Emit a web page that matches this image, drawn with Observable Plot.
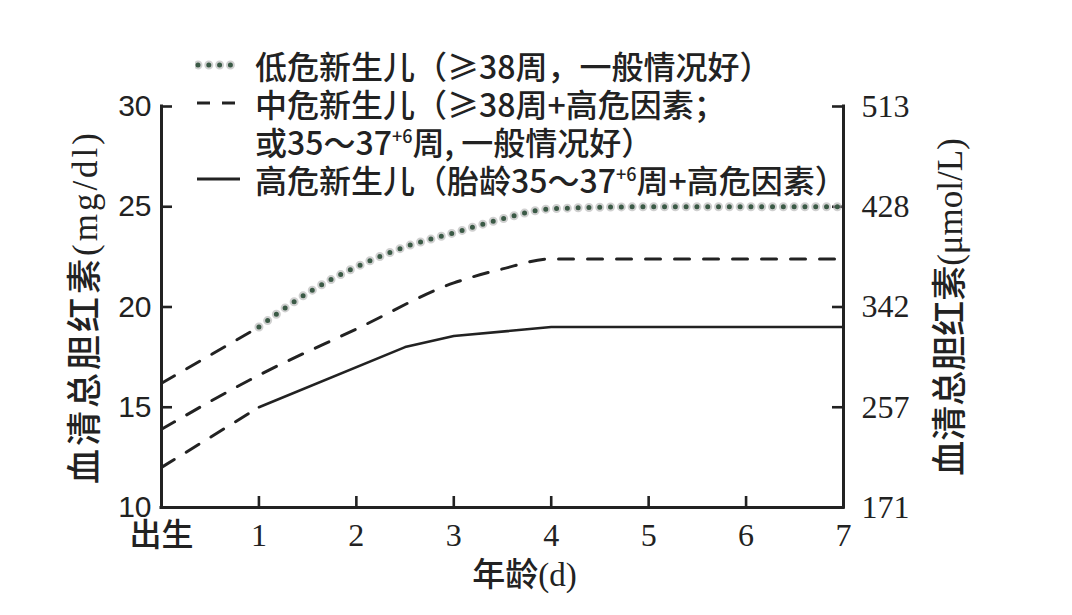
<!DOCTYPE html>
<html><head><meta charset="utf-8">
<script src="https://cdn.jsdelivr.net/npm/d3@7"></script>
<script src="https://cdn.jsdelivr.net/npm/@observablehq/plot@0.6"></script>
<style>
html,body{margin:0;padding:0;background:#fff;}
#wrap{position:relative;width:1072px;height:615px;overflow:hidden;background:#fff;}
#legend{position:absolute;left:195px;top:46px;font-family:"Noto Sans CJK SC";font-size:32px;font-weight:500;color:#222;}
.row{height:38px;line-height:38px;display:flex;align-items:center;white-space:nowrap;}
.row .lab{display:inline-block;height:36px;line-height:36px;overflow:visible;}
.sw{width:45px;height:38px;margin-right:15px;flex:none;}
.row sup{font-size:18px;line-height:0;vertical-align:12px;}
</style></head><body><div id="wrap"><div id="legend"></div></div>
<script>
// ---- data ----
const xTicks = [0, 1, 2, 3, 4, 5, 6, 7];
const xTickLabels = ["出生", "1", "2", "3", "4", "5", "6", "7"];
const yTicks = [10, 15, 20, 25, 30];
const yRightLabels = ["171", "257", "342", "428", "513"];

const lowPreDays = [0, 1];
const lowPreTsb = [16.2, 19.0];
const lowDays = [1, 1.5, 2, 2.5, 3, 3.5, 4, 5, 6, 7];
const lowTsb = [19.0, 20.7, 22.0, 23.0, 23.7, 24.4, 24.9, 25.0, 25.0, 25.0];
const midDays = [0, 1, 2, 3, 3.5, 4, 5, 6, 7];
const midTsb = [13.9, 16.6, 18.9, 21.2, 21.9, 22.4, 22.4, 22.4, 22.4];
const highPreDays = [0, 1];
const highPreTsb = [12.0, 15.0];
const highDays = [1, 2.5, 3, 4, 5, 6, 7];
const highTsb = [15.0, 18.0, 18.55, 19.0, 19.0, 19.0, 19.0];

const legendLabels = [
  "低危新生儿（≥38周，一般情况好）",
  "中危新生儿（≥38周+高危因素；",
  "或35～37<sup>+6</sup>周, 一般情况好）",
  "高危新生儿（胎龄35～37<sup>+6</sup>周+高危因素）"
];
const legendKinds = ["dot", "dash", "none", "solid"];

const leftTitle = "血清总胆红素(mg/dl)";
const rightTitle = "血清总胆红素(μmol/L)";
const xTitle = "年龄(d)";

// ---- helpers ----
const pts = (xs, ys) => xs.map((d, i) => ({day: d, tsb: ys[i]}));
const ink = "#222";
const dotColor = "#3b5a46";
const dash = "15,14";
const dotDash = "0,10.8";
const W = 1072, H = 615, mL = 161, mR = 229, mT = 106, mB = 108;
const frameW = W - mL - mR, frameH = H - mT - mB, tickLen = 11;
const serifCJK = "Liberation Serif, 'Noto Sans CJK SC'";

const chart = Plot.plot({
  width: W,
  height: H,
  marginLeft: mL,
  marginRight: mR,
  marginTop: mT,
  marginBottom: mB,
  style: {background: "white", color: ink, overflow: "visible"},
  x: {domain: [0, 7]},
  y: {domain: [10, 30]},
  marks: [
    // inward ticks
    Plot.ruleY(yTicks, {y: d => d, stroke: ink, strokeWidth: 2.6, insetRight: frameW - tickLen}),
    Plot.ruleY(yTicks, {y: d => d, stroke: ink, strokeWidth: 2.6, insetLeft: frameW - tickLen}),
    Plot.ruleX(xTicks.filter(d => d > 0), {x: d => d, stroke: ink, strokeWidth: 2.6, insetTop: frameH - tickLen}),
    // frame lines
    Plot.ruleX([0, 7], {stroke: ink, strokeWidth: 3, strokeLinecap: "square"}),
    Plot.ruleY([10], {stroke: ink, strokeWidth: 3, strokeLinecap: "square"}),
    // tick labels
    Plot.axisY(yTicks, {anchor: "left", tickSize: 0, tickPadding: 10, fontSize: 30, fontFamily: "Liberation Sans", fill: ink, label: null}),
    Plot.axisY(yTicks, {anchor: "right", tickSize: 0, tickPadding: 18, fontSize: 32, fontFamily: "Liberation Serif", fill: ink, label: null,
      tickFormat: d => yRightLabels[yTicks.indexOf(d)]}),
    Plot.axisX(xTicks, {anchor: "bottom", tickSize: 0, tickPadding: 16, fontSize: 32, fontFamily: serifCJK, fontWeight: 500, fill: ink, label: null,
      tickFormat: d => xTickLabels[xTicks.indexOf(d)]}),
    // axis titles
    Plot.text([leftTitle], {frameAnchor: "left", rotate: -90, dx: -76, fontSize: 35, fontWeight: 500, fontFamily: serifCJK, fill: ink, textAnchor: "middle"}),
    Plot.text([rightTitle], {frameAnchor: "right", rotate: -90, dx: 107, fontSize: 35, fontWeight: 500, fontFamily: serifCJK, fill: ink, textAnchor: "middle"}),
    Plot.text([xTitle], {frameAnchor: "bottom", dy: 68, dx: 22, fontSize: 33, fontWeight: 500, fontFamily: serifCJK, fill: ink, lineAnchor: "middle"}),
    // curves
    Plot.line(pts(lowPreDays, lowPreTsb), {x: "day", y: "tsb", stroke: ink, strokeWidth: 3, strokeDasharray: dash}),
    Plot.line(pts(highPreDays, highPreTsb), {x: "day", y: "tsb", stroke: ink, strokeWidth: 3, strokeDasharray: dash}),
    Plot.line(pts(midDays, midTsb), {x: "day", y: "tsb", stroke: ink, strokeWidth: 3, strokeDasharray: dash, curve: "monotone-x"}),
    Plot.line(pts(highDays, highTsb), {x: "day", y: "tsb", stroke: ink, strokeWidth: 2.6, strokeLinejoin: "round"}),
    Plot.line(pts(lowDays, lowTsb), {x: "day", y: "tsb", stroke: "#b0b0b0", strokeOpacity: 0.6, strokeWidth: 9, strokeDasharray: dotDash, strokeLinecap: "round", curve: "monotone-x"}),
    Plot.line(pts(lowDays, lowTsb), {x: "day", y: "tsb", stroke: dotColor, strokeWidth: 5, strokeDasharray: dotDash, strokeLinecap: "round", curve: "monotone-x"})
  ]
});
// letter spacing for the left title
d3.select(chart).selectAll("text").filter(function() { return this.textContent === leftTitle; })
  .style("letter-spacing", "3px");

const wrap = document.getElementById("wrap");
wrap.insertBefore(chart, wrap.firstChild);
chart.style.position = "absolute";
chart.style.left = "0px";
chart.style.top = "0px";

// legend
const legend = document.getElementById("legend");
legendLabels.forEach((lab, i) => {
  const row = document.createElement("div");
  row.className = "row";
  const k = legendKinds[i];
  let sw = "";
  if (k === "dot") sw = `<line x1="3" y1="19" x2="43" y2="19" stroke="#b0b0b0" stroke-opacity="0.6" stroke-width="9" stroke-dasharray="${dotDash}" stroke-linecap="round"/><line x1="3" y1="19" x2="43" y2="19" stroke="${dotColor}" stroke-width="5" stroke-dasharray="${dotDash}" stroke-linecap="round"/>`;
  else if (k === "dash") sw = `<line x1="2" y1="19" x2="45" y2="19" stroke="${ink}" stroke-width="3" stroke-dasharray="13,12"/>`;
  else if (k === "solid") sw = `<line x1="2" y1="19" x2="45" y2="19" stroke="${ink}" stroke-width="3"/>`;
  row.innerHTML = `<svg class="sw" width="45" height="38">${sw}</svg><span class="lab">${lab}</span>`;
  legend.appendChild(row);
});
</script>
</body></html>
